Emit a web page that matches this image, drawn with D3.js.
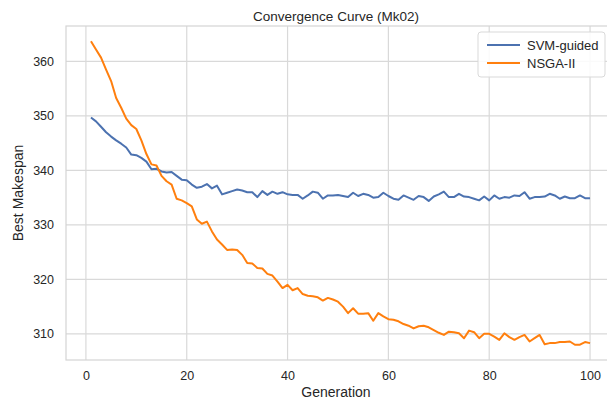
<!DOCTYPE html>
<html lang="en">
<head>
<meta charset="utf-8">
<title>Convergence Curve (Mk02)</title>
<script src="https://cdn.jsdelivr.net/npm/d3@7"></script>
<style>
  html, body { margin: 0; padding: 0; background: #fff; }
  text { font-family: "Liberation Sans", Arial, sans-serif; fill: #262626; }
</style>
</head>
<body>
<script>
// best makespan per generation (1..100)
const svmGuided = [
  349.7, 349.0, 348.0, 347.0, 346.2, 345.5, 344.9, 344.2, 342.9, 342.8,
  342.3, 341.6, 340.2, 340.3, 339.8, 339.6, 339.7, 339.0, 338.3, 338.2,
  337.4, 336.8, 337.0, 337.5, 336.7, 337.2, 335.6, 335.9, 336.2, 336.5,
  336.3, 336.0, 336.0, 335.1, 336.2, 335.5, 336.1, 335.7, 336.0, 335.6,
  335.5, 335.5, 334.8, 335.4, 336.1, 335.9, 334.8, 335.4, 335.4, 335.5,
  335.3, 335.1, 335.9, 335.3, 335.7, 335.5, 335.0, 335.1, 335.9, 335.3,
  334.8, 334.6, 335.4, 335.0, 334.6, 335.3, 335.1, 334.4, 335.2, 335.6,
  336.1, 335.1, 335.1, 335.7, 335.2, 335.1, 334.8, 334.5, 335.2, 334.5,
  335.4, 334.8, 335.1, 335.0, 335.4, 335.3, 336.0, 334.8, 335.1, 335.1,
  335.2, 335.7, 335.4, 334.8, 335.2, 334.9, 334.9, 335.4, 334.9, 334.9
];
const nsga2 = [
  363.7, 362.2, 360.7, 358.5, 356.4, 353.3, 351.5, 349.5, 348.3, 347.6,
  345.5, 343.0, 341.1, 340.9, 339.0, 338.0, 337.4, 334.8, 334.5, 334.0,
  333.4, 331.0, 330.2, 330.6, 328.8, 327.3, 326.4, 325.4, 325.5, 325.4,
  324.5, 323.0, 322.9, 322.1, 322.0, 321.0, 320.7, 319.6, 318.4, 319.0,
  318.0, 318.4, 317.3, 317.0, 316.9, 316.7, 316.1, 316.6, 316.3, 315.9,
  315.0, 313.8, 314.7, 313.7, 313.7, 313.8, 312.4, 313.8, 313.2, 312.7,
  312.6, 312.3, 311.8, 311.5, 311.0, 311.4, 311.5, 311.2, 310.7, 310.2,
  309.8, 310.4, 310.3, 310.1, 309.2, 310.6, 310.3, 309.2, 310.0, 310.0,
  309.5, 308.9, 310.1, 309.4, 308.9, 309.4, 309.8, 308.6, 309.2, 309.8,
  308.1, 308.3, 308.3, 308.5, 308.5, 308.6, 308.0, 308.0, 308.5, 308.3
];
const seriesNames = ["SVM-guided", "NSGA-II"];
const seriesColors = ["#4c72b0", "#ff7f0e"];
const xTicks = [0, 20, 40, 60, 80, 100];
const yTicks = [310, 320, 330, 340, 350, 360];

const w = 607, h = 401;
const margin = {top: 26, right: -8, bottom: 41, left: 66};
const iw = w - margin.left - margin.right;
const ih = h - margin.top - margin.bottom;

const svg = d3.select("body").append("svg")
  .attr("width", w).attr("height", h);

const x = d3.scaleLinear([-3.95, 104.95], [0, iw]);
const y = d3.scaleLinear([305.2, 366.5], [ih, 0]);

const g = svg.append("g").attr("transform", `translate(${margin.left},${margin.top})`);

// grid
g.append("g").selectAll("line").data(xTicks).join("line")
  .attr("x1", d => x(d)).attr("x2", d => x(d))
  .attr("y1", 0).attr("y2", ih)
  .attr("stroke", "#d9d9d9").attr("stroke-width", 1.2);
g.append("g").selectAll("line").data(yTicks).join("line")
  .attr("x1", 0).attr("x2", iw)
  .attr("y1", d => y(d)).attr("y2", d => y(d))
  .attr("stroke", "#d9d9d9").attr("stroke-width", 1.2);

// frame
g.append("rect").attr("width", iw).attr("height", ih)
  .attr("fill", "none").attr("stroke", "#d4d4d4").attr("stroke-width", 1.2);

// axes (labels only, no ticks)
const xAxis = g.append("g").attr("transform", `translate(0,${ih})`)
  .call(d3.axisBottom(x).tickValues(xTicks).tickSize(0).tickPadding(11));
const yAxis = g.append("g")
  .call(d3.axisLeft(y).tickValues(yTicks).tickSize(0).tickPadding(12));
[xAxis, yAxis].forEach(a => {
  a.select(".domain").remove();
  a.selectAll("text").attr("font-size", 12.5).attr("fill", "#262626")
    .attr("font-family", '"Liberation Sans", Arial, sans-serif');
});

// lines
const line = d3.line().x((d, i) => x(i + 1)).y(d => y(d));
[svmGuided, nsga2].forEach((s, k) => {
  g.append("path").datum(s)
    .attr("fill", "none")
    .attr("stroke", seriesColors[k])
    .attr("stroke-width", 2)
    .attr("stroke-linejoin", "round")
    .attr("d", line);
});

// titles
svg.append("text").attr("x", 336).attr("y", 21)
  .attr("text-anchor", "middle").attr("font-size", 13.5)
  .text("Convergence Curve (Mk02)");
svg.append("text").attr("x", 336).attr("y", 397)
  .attr("text-anchor", "middle").attr("font-size", 14)
  .text("Generation");
svg.append("text").attr("transform", "translate(23,193) rotate(-90)")
  .attr("text-anchor", "middle").attr("font-size", 14)
  .text("Best Makespan");

// legend
const lg = svg.append("g").attr("transform", "translate(478,32)");
lg.append("rect").attr("width", 127).attr("height", 45).attr("rx", 3)
  .attr("fill", "#fff").attr("fill-opacity", 0.85)
  .attr("stroke", "#d9d9d9");
seriesNames.forEach((name, i) => {
  const yy = 13 + i * 18;
  lg.append("line").attr("x1", 9).attr("x2", 42).attr("y1", yy).attr("y2", yy)
    .attr("stroke", seriesColors[i]).attr("stroke-width", 2);
  lg.append("text").attr("x", 49).attr("y", yy + 4.5)
    .attr("font-size", 13).text(name);
});
</script>
</body>
</html>
